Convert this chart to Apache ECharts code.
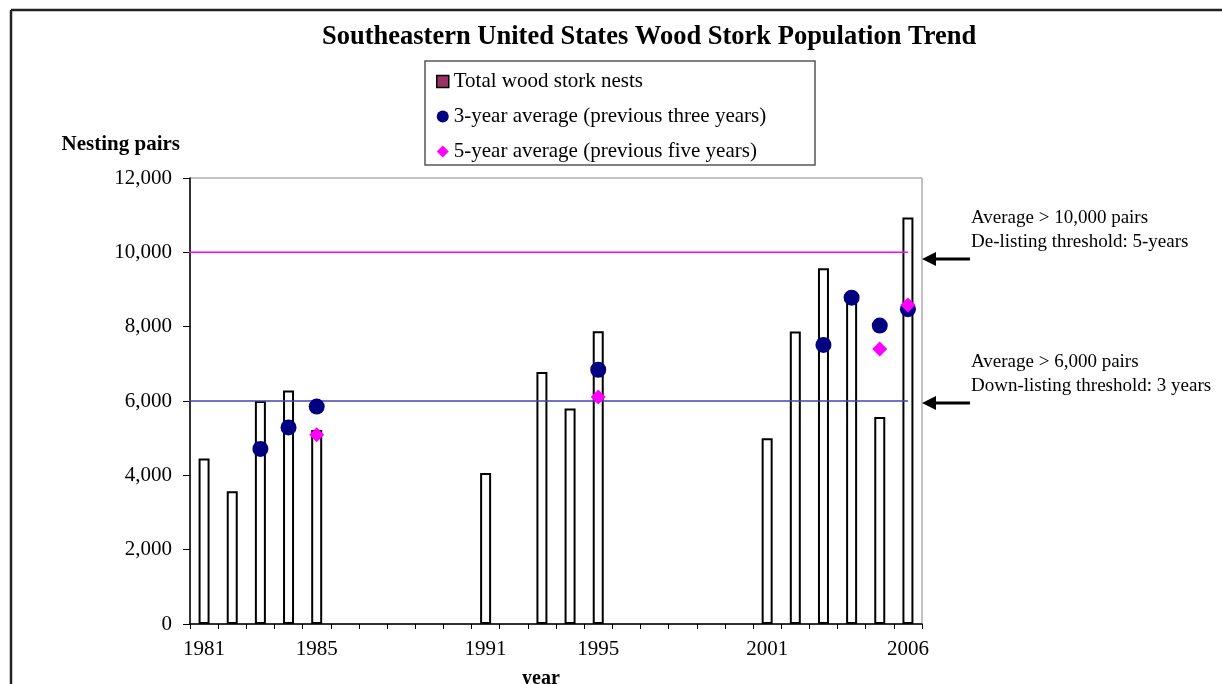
<!DOCTYPE html>
<html>
<head>
<meta charset="utf-8">
<script src="https://cdn.jsdelivr.net/npm/echarts@6/dist/echarts.min.js"></script>
<style>
  html, body { margin: 0; padding: 0; background: #fff; }
  #chart { width: 1222px; height: 684px; }
</style>
</head>
<body>
<div id="chart"></div>
<script>
// years on the x axis
const years = [];
for (let y = 1981; y <= 2006; y++) years.push(String(y));
const labelYears = ['1981', '1985', '1991', '1995', '2001', '2006'];

// total wood stork nests (null = no survey)
const totalNests = [
  4450, 3570, 6000, 6280, 5220,
  null, null, null, null, null,
  4060, null, 6780, 5800, 7880,
  null, null, null, null, null,
  5000, 7870, 9570, 8900, 5570, 10940
];
// 3-year average (previous three years)
const avg3 = [
  null, null, 4710, 5290, 5850,
  null, null, null, null, null,
  null, null, null, null, 6840,
  null, null, null, null, null,
  null, null, 7510, 8780, 8030, 8470
];
// 5-year average (previous five years)
const avg5 = [
  null, null, null, null, 5090,
  null, null, null, null, null,
  null, null, null, null, 6110,
  null, null, null, null, null,
  null, null, null, null, 7400, 8580
];
// listing thresholds
const delistThreshold = 10000;
const downlistThreshold = 6000;
const thresholdSpan = [1980.07, 2006.0];

const font = 'Liberation Serif, Times New Roman, serif';
const chart = echarts.init(document.getElementById('chart'));

const option = {
  backgroundColor: '#fff',
  animation: false,
  textStyle: { fontFamily: font, color: '#000' },
  title: {
    text: 'Southeastern United States Wood Stork Population Trend',
    left: 317,
    top: 19,
    textStyle: { fontFamily: font, fontSize: 26.5, fontWeight: 'bold', color: '#000' }
  },
  legend: {
    orient: 'vertical',
    left: 431,
    top: 66,
    itemWidth: 12,
    itemHeight: 12,
    itemGap: 14,
    textStyle: { fontFamily: font, fontSize: 21, color: '#000' },
    data: [
      { name: 'Total wood stork nests', icon: 'rect', itemStyle: { color: '#993366', borderColor: '#000', borderWidth: 1.5 } },
      { name: '3-year average (previous three years)', icon: 'circle' },
      { name: '5-year average (previous five years)', icon: 'diamond' }
    ]
  },
  grid: {
    left: 190, right: 300, top: 178, bottom: 60,
    outerBoundsMode: 'none',
    containLabel: false,
    show: true, borderColor: '#888', borderWidth: 1
  },
  xAxis: [
    {
      type: 'category',
      data: years,
      name: 'year',
      nameLocation: 'middle',
      nameGap: 45,
      nameTextStyle: { fontFamily: font, fontSize: 20, fontWeight: 'bold', color: '#000', padding: [0, 30, 0, 0] },
      axisLine: { lineStyle: { color: '#000', width: 1.5 } },
      axisTick: { show: true, interval: 0, length: 5, lineStyle: { color: '#000' } },
      axisLabel: {
        interval: (idx, val) => labelYears.includes(val),
        fontFamily: font, fontSize: 21, color: '#000', margin: 15
      },
      splitLine: { show: false }
    },
    {
      type: 'value',
      min: 1980.5,
      max: 2006.5,
      show: false
    }
  ],
  yAxis: {
    type: 'value',
    min: 0,
    max: 12000,
    interval: 2000,
    name: 'Nesting pairs',
    nameLocation: 'end',
    nameGap: 33,
    nameTextStyle: { fontFamily: font, fontSize: 21, fontWeight: 'bold', color: '#000', align: 'right', verticalAlign: 'middle', padding: [0, 10, 0, 0] },
    axisLine: { show: true, lineStyle: { color: '#000', width: 1.5 } },
    axisTick: { show: true, length: 7, lineStyle: { color: '#000' } },
    axisLabel: {
      fontFamily: font, fontSize: 21, color: '#000', margin: 18,
      formatter: v => v.toLocaleString('en-US')
    },
    splitLine: { show: false }
  },
  series: [
    {
      name: 'Total wood stork nests',
      type: 'bar',
      data: totalNests,
      barWidth: 11,
      itemStyle: { color: '#fff', borderColor: '#000', borderWidth: 2 },
      z: 2
    },
    {
      type: 'line',
      xAxisIndex: 1,
      data: thresholdSpan.map(x => [x, delistThreshold]),
      symbol: 'none',
      clip: false,
      lineStyle: { color: '#FF00FF', width: 1.5 },
      z: 3
    },
    {
      type: 'line',
      xAxisIndex: 1,
      data: thresholdSpan.map(x => [x, downlistThreshold]),
      symbol: 'none',
      clip: false,
      lineStyle: { color: '#4444B0', width: 1.5 },
      z: 3
    },
    {
      name: '3-year average (previous three years)',
      type: 'scatter',
      data: avg3,
      symbol: 'circle',
      symbolSize: 16,
      itemStyle: { color: '#000080', opacity: 1 },
      z: 4
    },
    {
      name: '5-year average (previous five years)',
      type: 'scatter',
      data: avg5,
      symbol: 'diamond',
      symbolSize: 15,
      itemStyle: { color: '#FF00FF', opacity: 1 },
      z: 5
    }
  ],
  graphic: [
    // outer frame (top and left edges)
    { type: 'line', shape: { x1: 11, y1: 10, x2: 1222, y2: 10 }, style: { stroke: '#222', lineWidth: 2.5 } },
    { type: 'line', shape: { x1: 11, y1: 10, x2: 11, y2: 684 }, style: { stroke: '#222', lineWidth: 2.5 } },
    // legend box
    { type: 'rect', shape: { x: 425, y: 61, width: 390, height: 104 }, style: { fill: 'none', stroke: '#555', lineWidth: 1.5 }, z: 0 },
    // annotations
    { type: 'text', left: 971, top: 206, style: { text: 'Average > 10,000 pairs\nDe-listing threshold: 5-years', font: '19px ' + font, fill: '#000', lineHeight: 24 } },
    { type: 'text', left: 971, top: 350, style: { text: 'Average > 6,000 pairs\nDown-listing threshold: 3 years', font: '19px ' + font, fill: '#000', lineHeight: 24 } },
    { type: 'line', shape: { x1: 932, y1: 259, x2: 970, y2: 259 }, style: { stroke: '#000', lineWidth: 3 } },
    { type: 'polygon', shape: { points: [[922, 259], [936, 252], [936, 266]] }, style: { fill: '#000' } },
    { type: 'line', shape: { x1: 932, y1: 403, x2: 970, y2: 403 }, style: { stroke: '#000', lineWidth: 3 } },
    { type: 'polygon', shape: { points: [[922, 403], [936, 396], [936, 410]] }, style: { fill: '#000' } }
  ]
};

chart.setOption(option);
window.addEventListener('resize', chart.resize);
</script>
</body>
</html>
